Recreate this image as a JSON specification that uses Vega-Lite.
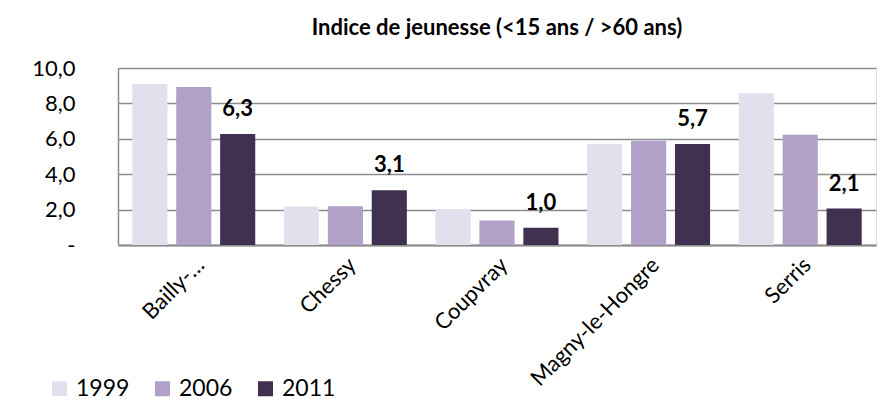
{
  "$schema": "https://vega.github.io/schema/vega-lite/v6.json",
  "autosize": {"type": "none"},
  "padding": {"left": 118, "top": 68, "right": 17, "bottom": 171},
  "width": 758,
  "height": 177,
  "background": "white",
  "config": {
    "locale": {
      "number": {"decimal": ",", "thousands": "\u00a0", "grouping": [3], "currency": ["", "\u00a0€"]}
    }
  },
  "title": {
    "text": "Indice de jeunesse (<15 ans / >60 ans)",
    "font": "Lato",
    "fontSize": 22,
    "fontWeight": "bold",
    "color": "#000000",
    "anchor": "middle",
    "frame": "group",
    "baseline": "alphabetic",
    "offset": 0
  },
  "data": {
    "values": [
      {"commune": "Bailly-…", "annee": "1999", "indice": 9.1},
      {"commune": "Bailly-…", "annee": "2006", "indice": 8.93},
      {"commune": "Bailly-…", "annee": "2011", "indice": 6.27},
      {"commune": "Chessy", "annee": "1999", "indice": 2.17},
      {"commune": "Chessy", "annee": "2006", "indice": 2.19},
      {"commune": "Chessy", "annee": "2011", "indice": 3.1},
      {"commune": "Coupvray", "annee": "1999", "indice": 2.02},
      {"commune": "Coupvray", "annee": "2006", "indice": 1.39},
      {"commune": "Coupvray", "annee": "2011", "indice": 0.97},
      {"commune": "Magny-le-Hongre", "annee": "1999", "indice": 5.72},
      {"commune": "Magny-le-Hongre", "annee": "2006", "indice": 5.89},
      {"commune": "Magny-le-Hongre", "annee": "2011", "indice": 5.7},
      {"commune": "Serris", "annee": "1999", "indice": 8.57},
      {"commune": "Serris", "annee": "2006", "indice": 6.23},
      {"commune": "Serris", "annee": "2011", "indice": 2.06}
    ]
  },
  "encoding": {
    "x": {
      "field": "commune",
      "type": "nominal",
      "sort": null,
      "title": null,
      "scale": {"paddingInner": 0.189, "paddingOuter": 0.0943},
      "axis": {
        "labelAngle": -45,
        "labelAlign": "right",
        "labelBaseline": "middle",
        "labelFont": "Lato",
        "labelFontSize": 22,
        "labelColor": "#000000",
        "labelPadding": 16,
        "labelOffset": 7,
        "ticks": false,
        "domainColor": "#8c8c8c",
        "domainWidth": 2,
        "grid": false
      }
    },
    "y": {
      "field": "indice",
      "type": "quantitative",
      "title": null,
      "scale": {"domain": [0, 10], "nice": false},
      "axis": {
        "values": [0, 2, 4, 6, 8, 10],
        "labelExpr": "datum.value == 0 ? '-\u00a0\u00a0' : format(datum.value, '.1f')",
        "labelFont": "Lato",
        "labelFontSize": 22,
        "labelColor": "#000000",
        "labelPadding": 43,
        "ticks": false,
        "domainColor": "#8c8c8c",
        "domainWidth": 1.5,
        "gridColor": "#8c8c8c",
        "gridWidth": 1.5
      }
    }
  },
  "layer": [
    {
      "mark": {"type": "bar"},
      "encoding": {
        "xOffset": {"field": "annee", "type": "nominal", "scale": {"paddingInner": 0.2, "paddingOuter": 0}},
        "color": {
          "field": "annee",
          "type": "nominal",
          "scale": {"domain": ["1999", "2006", "2011"], "range": ["#e4dfec", "#b1a0c7", "#403151"]},
          "legend": {
            "title": null,
            "orient": "none",
            "direction": "horizontal",
            "legendX": -70,
            "legendY": 309,
            "padding": 0,
            "symbolType": "square",
            "symbolSize": 225,
            "symbolStrokeWidth": 0,
            "labelFont": "Lato",
            "labelFontSize": 23,
            "labelColor": "#000000",
            "labelOffset": 5,
            "columnPadding": 21
          }
        }
      }
    },
    {
      "transform": [{"filter": "datum.annee == '2011'"}],
      "mark": {"type": "text", "font": "Lato", "fontSize": 22, "fontWeight": "bold", "color": "#000000", "baseline": "alphabetic", "dy": -18},
      "encoding": {
        "xOffset": {"field": "annee", "type": "nominal"},
        "text": {"field": "indice", "type": "quantitative", "format": ".1f", "formatType": "number"}
      }
    }
  ]
}
